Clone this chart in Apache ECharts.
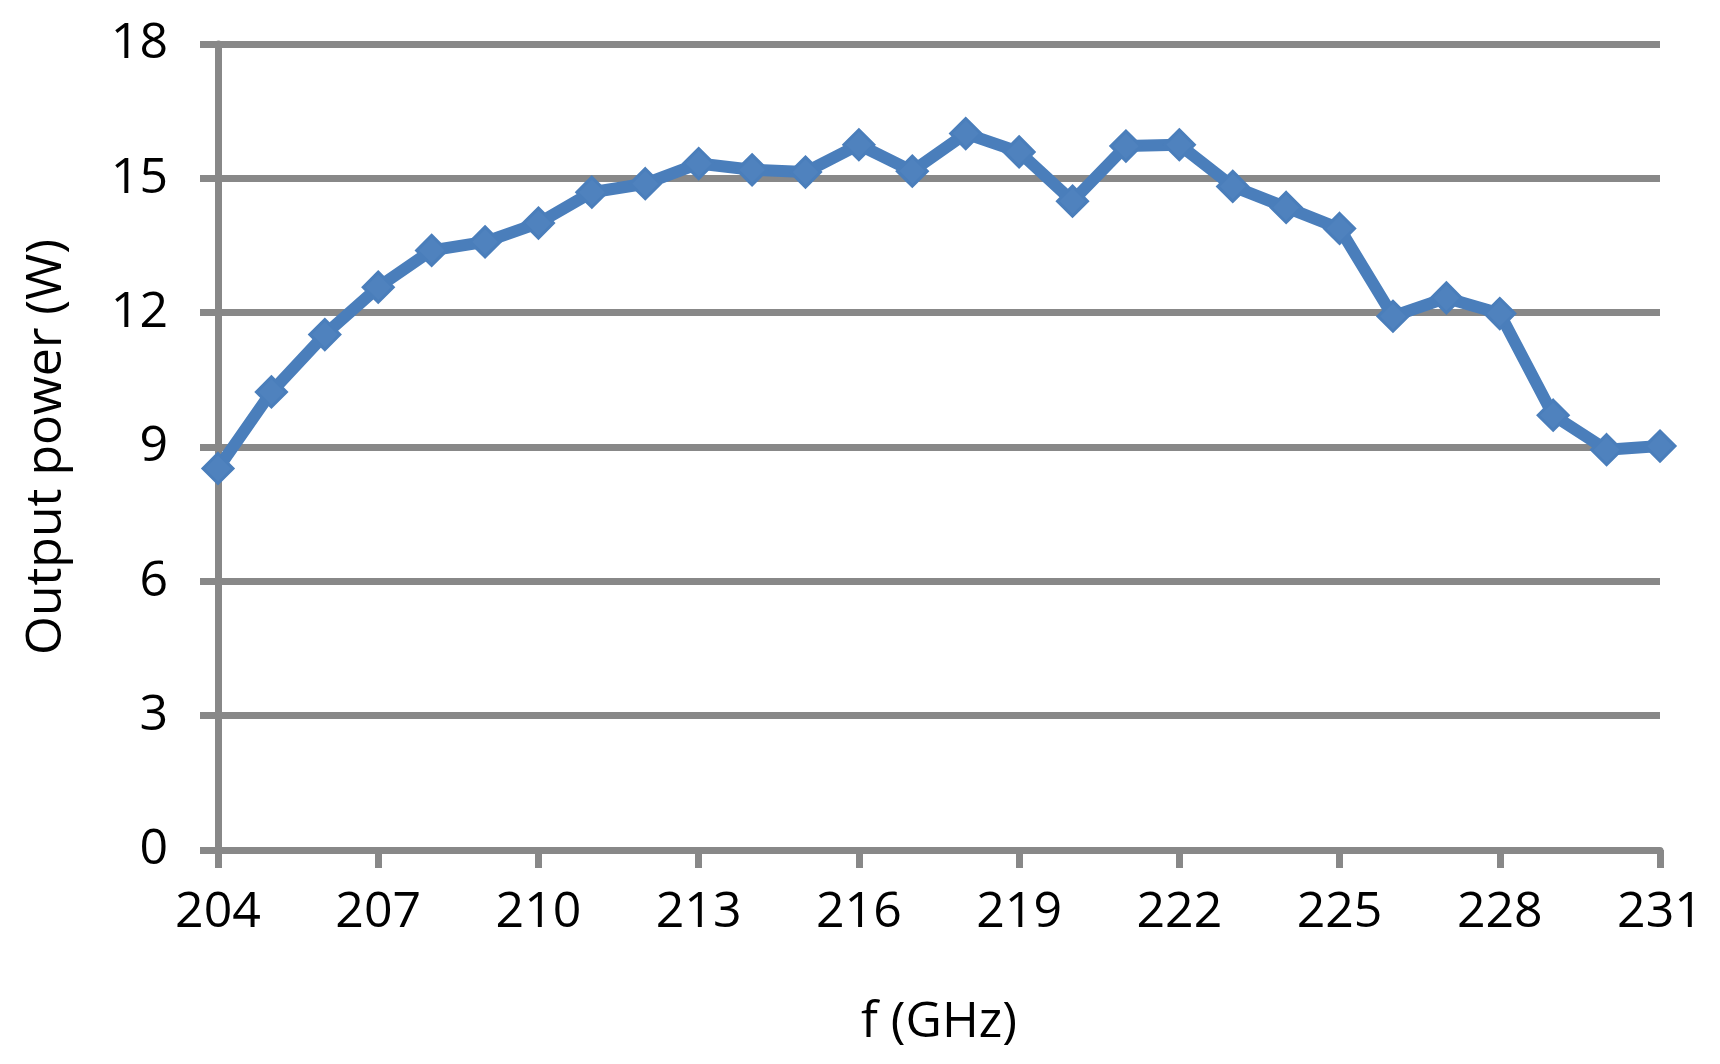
<!DOCTYPE html>
<html>
<head>
<meta charset="utf-8">
<title>Output power vs frequency</title>
<script src="https://cdn.jsdelivr.net/npm/echarts@6/dist/echarts.min.js"></script>
<style>
  html, body { margin: 0; padding: 0; background: #fff; }
  #chart { width: 1720px; height: 1064px; }
</style>
</head>
<body>
<div id="chart"></div>
<script>
// 数据: 频率 (GHz) 和输出功率 (W)
const freq = [204, 205, 206, 207, 208, 209, 210, 211, 212, 213, 214, 215, 216, 217,
  218, 219, 220, 221, 222, 223, 224, 225, 226, 227, 228, 229, 230, 231];
const power = [8.52, 10.23, 11.51, 12.57, 13.39, 13.58, 14.0, 14.69, 14.88, 15.33,
  15.19, 15.14, 15.75, 15.16, 16.0, 15.59, 14.49, 15.72, 15.75, 14.82, 14.35, 13.88,
  11.92, 12.33, 11.98, 9.71, 8.94, 9.02];
const yTicks = [0, 3, 6, 9, 12, 15, 18];

const gray = "#888888";
const blue = "#4a7ebb";
const font = "'Open Sans', 'Noto Sans', sans-serif";

// 1. 实例化echart对象
const myChart = echarts.init(document.querySelector("#chart"));
// 2. 调整配置
const option = {
  animation: false,
  textStyle: { fontFamily: font },
  grid: {
    left: 218,
    right: 60,
    top: 44,
    bottom: 214,
  },
  xAxis: {
    type: "value",
    min: freq[0],
    max: freq[freq.length - 1],
    interval: 3,
    name: "f (GHz)",
    nameLocation: "middle",
    nameGap: 148,
    nameTextStyle: { fontSize: 50, color: "#000", fontFamily: font },
    axisLine: { show: true, onZero: false, lineStyle: { color: gray, width: 7 } },
    axisTick: { show: true, length: 18, lineStyle: { color: gray, width: 7 } },
    axisLabel: { fontSize: 50, color: "#000", margin: 38, fontFamily: font },
    splitLine: { show: false },
  },
  yAxis: {
    type: "value",
    min: yTicks[0],
    max: yTicks[yTicks.length - 1],
    interval: 3,
    name: "Output power (W)",
    nameLocation: "middle",
    nameGap: 146,
    nameTextStyle: { fontSize: 50, color: "#000", fontFamily: font },
    axisLine: { show: true, lineStyle: { color: gray, width: 7 } },
    axisTick: { show: true, length: 18, lineStyle: { color: gray, width: 7 } },
    axisLabel: { fontSize: 50, color: "#000", margin: 50, fontFamily: font },
    splitLine: { show: true, lineStyle: { color: gray, width: 7 } },
  },
  series: [
    {
      type: "line",
      data: freq.map((f, i) => [f, power[i]]),
      symbol: "diamond",
      symbolSize: 30,
      lineStyle: { color: blue, width: 12 },
      itemStyle: { color: "#4f82be", borderColor: blue, borderWidth: 3 },
      z: 5,
    },
  ],
};
// 3. 调用setOption方法
myChart.setOption(option);
</script>
</body>
</html>
